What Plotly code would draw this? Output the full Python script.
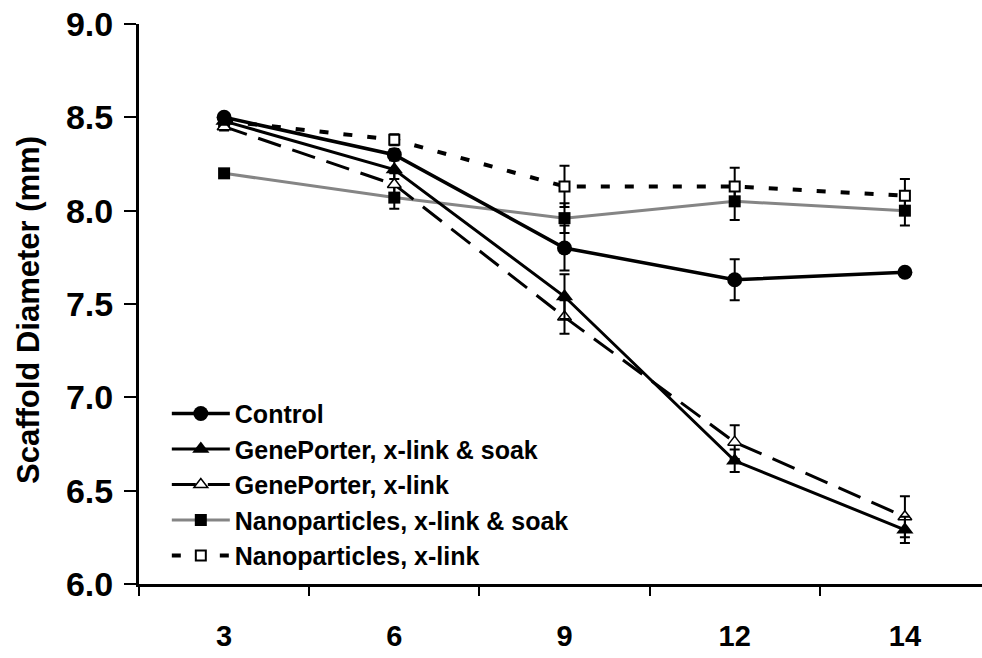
import plotly.graph_objects as go

# Culture day (categorical x axis)
days = ["3", "6", "9", "12", "14"]

# Scaffold diameter (mm), mean and error per group
control = [8.50, 8.30, 7.80, 7.63, 7.67]
control_err = [0.02, 0.03, 0.12, 0.11, 0.02]

gp_soak = [8.48, 8.22, 7.54, 6.66, 6.29]
gp_soak_err = [0.02, 0.05, 0.12, 0.06, 0.07]

gp_xlink = [8.45, 8.14, 7.43, 6.76, 6.36]
gp_xlink_err = [0.02, 0.06, 0.09, 0.09, 0.11]

np_soak = [8.20, 8.07, 7.96, 8.05, 8.00]
np_soak_err = [0.02, 0.06, 0.08, 0.10, 0.08]

np_xlink = [8.48, 8.38, 8.13, 8.13, 8.08]
np_xlink_err = [0.02, 0.03, 0.11, 0.10, 0.09]

FONT = "Arial, Liberation Sans, Helvetica, sans-serif"


def err(vals):
    return dict(type="data", array=vals, visible=True, color="black",
                thickness=2, width=5)


fig = go.Figure()

fig.add_trace(go.Scatter(
    x=days, y=np_soak, name="Nanoparticles, x-link & soak",
    mode="lines+markers", error_y=err(np_soak_err),
    line=dict(color="#858585", width=3),
    marker=dict(symbol="square", size=12, color="black"),
    legendrank=4,
))
fig.add_trace(go.Scatter(
    x=days, y=np_xlink, name="Nanoparticles, x-link",
    mode="lines+markers", error_y=err(np_xlink_err),
    line=dict(color="black", width=4, dash="9px,15px"),
    marker=dict(symbol="square", size=10, color="white",
                line=dict(color="black", width=2)),
    legendrank=5,
))
fig.add_trace(go.Scatter(
    x=days, y=gp_xlink, name="GenePorter, x-link",
    mode="lines+markers", error_y=err(gp_xlink_err),
    line=dict(color="black", width=3, dash="24px,12px"),
    marker=dict(symbol="triangle-up", size=12, color="white",
                line=dict(color="black", width=1.5)),
    legendrank=3,
))
fig.add_trace(go.Scatter(
    x=days, y=gp_soak, name="GenePorter, x-link & soak",
    mode="lines+markers", error_y=err(gp_soak_err),
    line=dict(color="black", width=3),
    marker=dict(symbol="triangle-up", size=15, color="black"),
    legendrank=2,
))
fig.add_trace(go.Scatter(
    x=days, y=control, name="Control",
    mode="lines+markers", error_y=err(control_err),
    line=dict(color="black", width=3.5),
    marker=dict(symbol="circle", size=15, color="black"),
    legendrank=1,
))

fig.update_layout(
    width=982, height=658,
    margin=dict(l=139, r=0, t=24, b=74),
    paper_bgcolor="white", plot_bgcolor="white",
    font=dict(family=FONT, color="black"),
    showlegend=True,
    legend=dict(
        x=0.033, y=0.345, xanchor="left", yanchor="top",
        bgcolor="rgba(0,0,0,0)", borderwidth=0,
        font=dict(family=FONT, size=25, color="black", weight="bold"),
        itemwidth=58, tracegroupgap=0,
    ),
    xaxis=dict(
        type="category", range=[-0.5, 4.453],
        showline=True, linecolor="black", linewidth=3,
        ticks="outside", tickson="boundaries", ticklen=9, tickwidth=2,
        tickcolor="black", showgrid=False, zeroline=False,
        tickfont=dict(family=FONT, size=29, color="black", weight="bold"),
        ticklabelstandoff=24,
    ),
    yaxis=dict(
        range=[6.0, 9.0], dtick=0.5, tick0=6.0, tickformat=".1f",
        showline=True, linecolor="black", linewidth=3,
        ticks="outside", ticklen=12, tickwidth=2, tickcolor="black",
        showgrid=False, zeroline=False,
        tickfont=dict(family=FONT, size=34, color="black", weight="bold"),
        ticklabelstandoff=4,
    ),
    annotations=[dict(
        text="Scaffold Diameter (mm)", textangle=-90,
        xref="paper", yref="paper", x=(28 - 139) / 843, y=(584 - 310) / 560,
        xanchor="center", yanchor="middle", showarrow=False,
        font=dict(family=FONT, size=31, color="black", weight="bold"),
    )],
)

fig.write_html("out.html")
